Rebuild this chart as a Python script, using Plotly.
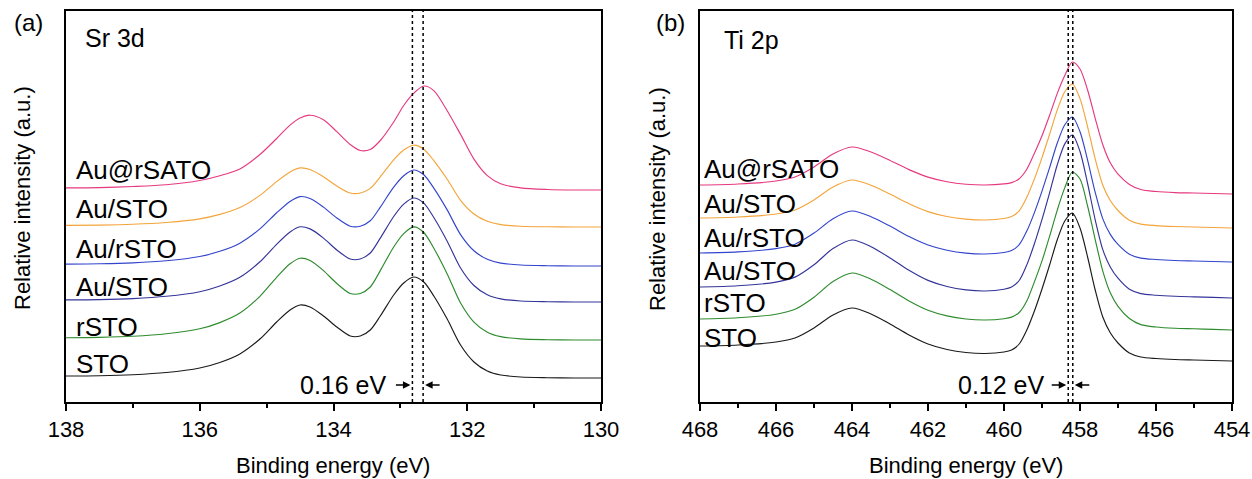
import plotly.graph_objects as go

# ---------------- Sr 3d spectra (panel a) ----------------
SR_ENERGY = [138.0, 137.5, 137.0, 136.5, 136.0, 135.7, 135.4, 135.1, 134.85, 134.65,
             134.5, 134.35, 134.15, 133.95, 133.75, 133.6, 133.45, 133.3, 133.1, 132.95,
             132.8, 132.65, 132.5, 132.3, 132.1, 131.9, 131.7, 131.5, 131.2, 130.8,
             130.4, 130.0]
SR_STO = [26, 26.3, 27.3, 29.5, 34, 39.5, 48, 63, 80, 92, 97, 95, 86, 75, 66, 66, 72, 86,
          107, 119, 125, 120, 106, 83, 57, 40, 31, 27, 25, 24.3, 24, 24]
SR_RSTO = [64.2, 64.6, 65.7, 68.2, 73.2, 79.4, 88.9, 105.7, 124.7, 138.2, 143.8, 141.5,
           131.4, 118.5, 108.5, 108.5, 115.0, 131.4, 155.0, 168.4, 175.1, 169.5, 153.8,
           128.1, 99.0, 79.9, 69.8, 65.4, 63.1, 62.3, 62.0, 62.0]
SR_AU_STO = [102.1, 102.4, 103.4, 105.7, 110.3, 116.0, 124.7, 140.2, 157.7, 170.0, 175.2,
             173.1, 163.9, 152.0, 143.0, 143.0, 149.0, 163.9, 185.5, 197.9, 204.0, 198.9,
             184.5, 160.8, 134.0, 116.5, 107.2, 103.1, 101.0, 100.3, 100.0, 100.0]
SR_AU_RSTO = [137.9, 138.2, 139.1, 141.2, 145.5, 150.7, 158.8, 173.1, 189.2, 200.6, 205.4,
              203.5, 194.9, 184.0, 175.8, 175.8, 181.2, 194.9, 214.9, 226.3, 232.0, 227.2,
              213.9, 192.1, 167.4, 151.2, 142.7, 138.9, 137.0, 136.3, 136.0, 136.0]
SR_AU_STO_2 = [176.6, 176.9, 177.7, 179.5, 183.1, 187.6, 194.4, 206.6, 220.4, 230.1, 234.1,
               232.5, 225.2, 216.0, 209.0, 209.0, 213.6, 225.2, 242.2, 252.0, 256.8, 252.8,
               241.4, 222.8, 201.7, 188.0, 180.7, 177.4, 175.8, 175.2, 175.0, 175.0]
SR_AU_RSATO = [214.1, 214.4, 215.5, 217.3, 221.5, 226.3, 233.1, 247.5, 263.5, 276.9, 284.1,
               286.8, 282.3, 270.3, 257.5, 251.5, 252.5, 261.5, 280.0, 296.5, 308.8, 316.0,
               311.4, 291.3, 267.6, 242.9, 226.4, 218.2, 214.1, 212.5, 212.0, 212.0]

# ---------------- Ti 2p spectra (panel b) ----------------
TI_ENERGY = [468.0, 467.0, 466.0, 465.5, 465.0, 464.5, 464.0, 463.5, 463.0, 462.5, 462.0,
             461.5, 461.0, 460.5, 460.0, 459.8, 459.6, 459.4, 459.2, 459.0, 458.8, 458.6,
             458.4, 458.2, 458.0, 457.8, 457.6, 457.4, 457.2, 457.0, 456.7, 456.4, 456.0,
             455.5, 455.0, 454.5, 454.0]
TI_STO = [56, 57, 60, 64, 74, 87, 94, 88, 78, 67, 58, 52.5, 49.5, 48.5, 50, 52, 58, 72, 91,
          113, 137, 162, 181, 189, 174, 145, 112, 85, 69, 59, 49, 45, 43.5, 42.5, 42, 41.5, 41]
TI_RSTO = [83, 84.2, 87.8, 92.7, 104.8, 120.5, 129, 122.8, 112.5, 101.1, 91.8, 86.1, 83.0,
           82.0, 83.3, 84.9, 89.5, 101.0, 120.1, 141.1, 165.7, 191.7, 214.4, 230.0, 223.0,
           196.0, 162.4, 130.9, 108.9, 95.6, 83.5, 77.4, 75.0, 73.7, 73.2, 72.6, 72.0]
TI_AU_STO = [115, 116.2, 119.9, 124.9, 137.3, 153.4, 162, 155.3, 144.1, 131.7, 121.6, 115.5,
             112.1, 111.0, 112.7, 114.9, 121.5, 137.1, 158.2, 182.6, 209.2, 237.0, 258.1,
             267.0, 250.5, 218.5, 182.2, 152.4, 134.8, 123.8, 112.8, 108.4, 106.8, 105.7,
             105.1, 104.6, 104.0]
TI_AU_RSTO = [149, 150.1, 153.4, 157.8, 168.9, 183.3, 191, 185.3, 175.9, 165.5, 157.0, 151.8,
              148.9, 148.0, 149.5, 151.4, 157.3, 170.9, 189.4, 210.9, 234.3, 258.7, 277.2,
              285.0, 270.3, 241.9, 209.6, 183.1, 167.4, 157.6, 147.8, 143.9, 142.5, 141.5,
              141.0, 140.5, 140.0]
TI_AU_STO_2 = [184, 185, 188, 192, 202, 215, 222, 216.7, 207.9, 198.3, 190.4, 185.5, 182.9,
               182.0, 183.5, 185.4, 191.2, 204.7, 223.1, 244.4, 267.7, 291.9, 310.3, 318.0,
               303.4, 275.2, 243.1, 216.8, 201.2, 191.5, 181.8, 177.9, 176.4, 175.5, 175.0,
               174.5, 174.0]
TI_AU_RSATO = [217, 218, 221, 225, 235, 248, 255, 250.0, 241.6, 232.4, 224.9, 220.3, 217.8,
               217.0, 218.1, 219.4, 223.3, 232.8, 248.7, 266.2, 286.7, 308.4, 326.5, 340.0,
               333.0, 312.0, 283.7, 257.3, 238.9, 227.8, 217.6, 212.5, 210.5, 209.4, 209.0,
               208.5, 208.0]

SAMPLES = ["STO", "rSTO", "Au/STO", "Au/rSTO", "Au/STO", "Au@rSATO"]
SR_SERIES = [SR_STO, SR_RSTO, SR_AU_STO, SR_AU_RSTO, SR_AU_STO_2, SR_AU_RSATO]
TI_SERIES = [TI_STO, TI_RSTO, TI_AU_STO, TI_AU_RSTO, TI_AU_STO_2, TI_AU_RSATO]

# Peak positions marked by the dotted guides (eV) and the shifts they bracket
SR_MARKS = [132.82, 132.66]
TI_MARKS = [458.31, 458.19]
SR_SHIFT_LABEL = "0.16 eV"
TI_SHIFT_LABEL = "0.12 eV"

COLORS = ["#1a1a1a", "#2e8b2e", "#34349a", "#3344cc", "#f4a43a", "#e6397f"]

W, H = 1252, 479
FONT = "Liberation Sans, Arial, sans-serif"


def px(xp, yp):
    """Pixel position -> paper coordinates."""
    return xp / W, 1 - yp / H


fig = go.Figure()

for name, ys, col in zip(SAMPLES, SR_SERIES, COLORS):
    fig.add_trace(go.Scatter(x=SR_ENERGY, y=ys, mode="lines", name=name,
                             line=dict(color=col, width=1.15, shape="spline", smoothing=0.8),
                             xaxis="x", yaxis="y", showlegend=False))
for name, ys, col in zip(SAMPLES, TI_SERIES, COLORS):
    fig.add_trace(go.Scatter(x=TI_ENERGY, y=ys, mode="lines", name=name,
                             line=dict(color=col, width=1.15, shape="spline", smoothing=0.8),
                             xaxis="x2", yaxis="y2", showlegend=False))

y_dom = [1 - 402 / H, 1 - 11 / H]
xa = dict(showline=True, linecolor="black", linewidth=1.5, mirror=True,
          ticks="outside", ticklen=7, tickwidth=1.5, tickcolor="black",
          dtick=2, showgrid=False, zeroline=False, automargin=False,
          minor=dict(dtick=1, ticks="outside", ticklen=4, tickwidth=1.5, tickcolor="black"),
          tickfont=dict(size=22, color="black", family=FONT))
ya = dict(showline=True, linecolor="black", linewidth=1.5, mirror=True,
          showticklabels=False, ticks="", showgrid=False, zeroline=False,
          automargin=False, range=[0, 391], domain=y_dom)

fig.update_layout(
    width=W, height=H, margin=dict(l=0, r=0, t=0, b=0, autoexpand=False),
    plot_bgcolor="white", paper_bgcolor="white",
    font=dict(family=FONT, color="black"),
    xaxis=dict(xa, domain=[66 / W, 601 / W], range=[138, 130], tick0=130, anchor="y"),
    yaxis=dict(ya, anchor="x"),
    xaxis2=dict(xa, domain=[700 / W, 1232 / W], range=[468, 454], tick0=454, anchor="y2"),
    yaxis2=dict(ya, anchor="x2"),
)

ann = []


def text(xp, yp, s, size, xanchor="center", angle=0):
    x, y = px(xp, yp)
    ann.append(dict(x=x, y=y, xref="paper", yref="paper", text=s, showarrow=False,
                    xanchor=xanchor, yanchor="middle", textangle=angle,
                    font=dict(size=size, color="black", family=FONT)))


# panel letters, core-level names, axis titles
text(28, 23, "(a)", 24)
text(670, 23, "(b)", 24)
text(83, 38, "Sr 3d", 25, "left")
text(722, 40, "Ti 2p", 25, "left")
text(22, 198, "Relative intensity (a.u.)", 22, angle=-90)
text(657, 199, "Relative intensity (a.u.)", 22, angle=-90)
text(333, 465, "Binding energy (eV)", 22)
text(966, 465, "Binding energy (eV)", 22)

# sample labels above each baseline
label_y_a = [364, 327, 287, 249, 209, 170]
label_y_b = [338, 303, 271, 238, 204, 169]
for name, ya_, yb_ in zip(SAMPLES, label_y_a, label_y_b):
    text(74, ya_, name, 26, "left")
    text(702, yb_, name, 26, "left")

# shift annotations
text(389, 385, SR_SHIFT_LABEL, 25, "right")
text(1047, 385, TI_SHIFT_LABEL, 25, "right")

for xr, yr, marks in (("x", "y", SR_MARKS), ("x2", "y2", TI_MARKS)):
    for m, off in ((marks[0], -18), (marks[1], 18)):
        ann.append(dict(x=m, y=402 - 385, xref=xr, yref=yr, text="", showarrow=True,
                        ax=off, ay=0, arrowhead=2, arrowsize=1, arrowwidth=1.5,
                        arrowcolor="black", standoff=2))

fig.update_layout(annotations=ann)

# dotted guides through the peak maxima
shapes = []
for xr, dom, marks in (("x", "y domain", SR_MARKS), ("x2", "y2 domain", TI_MARKS)):
    for m in marks:
        shapes.append(dict(type="line", xref=xr, yref=dom, x0=m, x1=m, y0=0, y1=1,
                           line=dict(color="black", width=1.5, dash="dot")))
fig.update_layout(shapes=shapes)

fig.write_html("out.html")
